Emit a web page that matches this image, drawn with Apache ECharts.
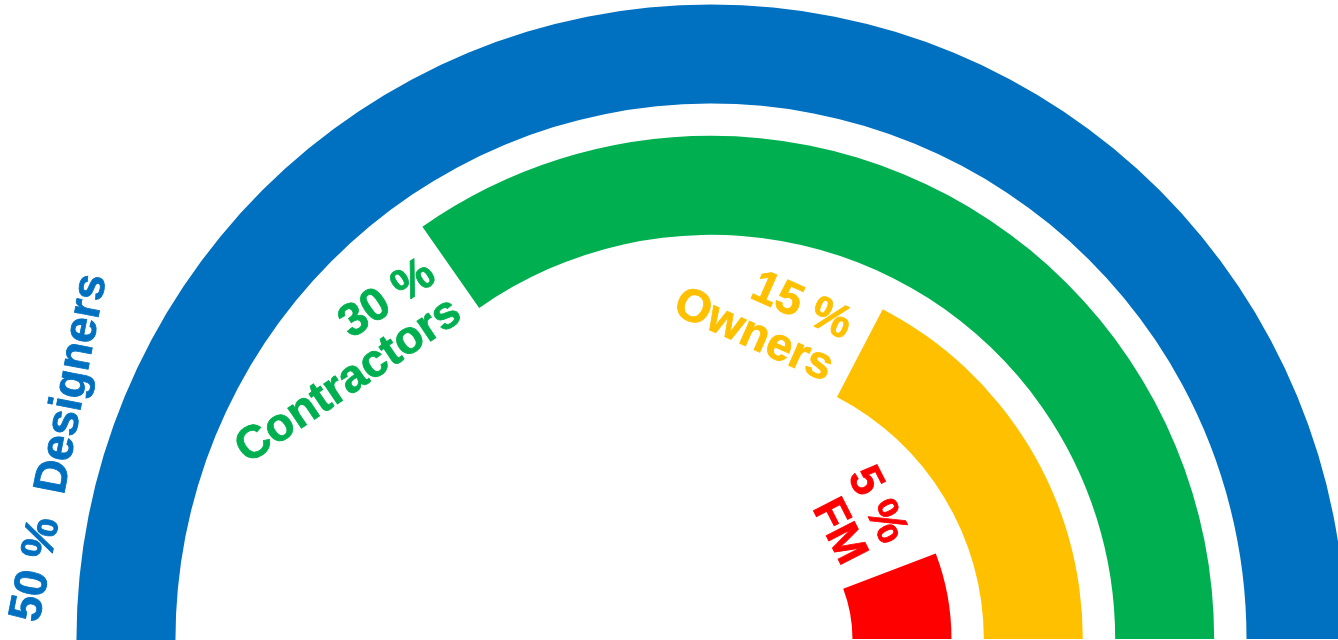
<!DOCTYPE html>
<html><head><meta charset="utf-8">
<script src="https://cdn.jsdelivr.net/npm/echarts@6/dist/echarts.min.js"></script>
<style>html,body{margin:0;padding:0;background:#fff}#c{width:1338px;height:640px}</style>
</head><body><div id="c"></div>
<script>
const categories = ['FM', 'Owners', 'Contractors', 'Designers'];
const values = [5, 15, 30, 50];
const colors = ['#FF0000', '#FFC000', '#00B050', '#0070C0'];

const labelLayout = [
  {x: 874, y: 551, rotation: -63, align: 'right', single: false},
  {x: 840, y: 349, rotation: -24, align: 'right', single: false},
  {x: 444, y: 289, rotation: 34, align: 'right', single: false},
  {x: 60, y: 448, rotation: 79, align: 'center', single: true}
];

const chart = echarts.init(document.getElementById('c'), null, {renderer: 'canvas'});
const labels = categories.map((c, i) => {
  const L = labelLayout[i];
  const text = L.single ? values[i] + ' %  ' + c : values[i] + ' %\n' + c;
  return {
    type: 'text', x: L.x, y: L.y, rotation: L.rotation * Math.PI / 180,
    style: {
      text: text, fill: colors[i], stroke: colors[i], lineWidth: 0.8,
      fontSize: 46, fontWeight: 'bold', fontFamily: '"Liberation Sans", Arial, sans-serif',
      align: L.align, textAlign: L.align, verticalAlign: 'middle', textVerticalAlign: 'middle',
      lineHeight: 46
    }
  };
});
chart.setOption({
  animation: false,
  polar: { center: [711, 639], radius: [125.3, 650.7] },
  angleAxis: { type: 'value', min: 0, max: 86.4, startAngle: 0, clockwise: false, show: false },
  radiusAxis: { type: 'category', data: categories, show: false },
  series: [{
    type: 'bar', coordinateSystem: 'polar', barWidth: 99,
    data: values.map((v, i) => ({ value: v, itemStyle: { color: colors[i] } }))
  }],
  graphic: labels
});
</script></body></html>
